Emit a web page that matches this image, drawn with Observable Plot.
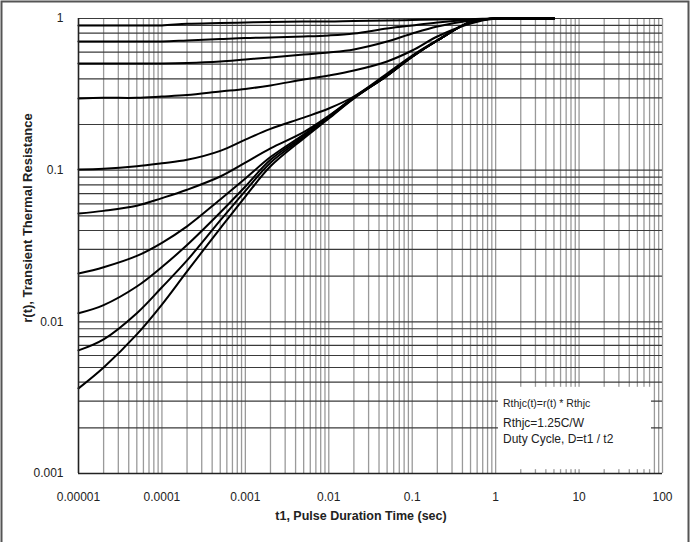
<!DOCTYPE html>
<html><head><meta charset="utf-8">
<script src="https://cdn.jsdelivr.net/npm/d3@7"></script>
<script src="https://cdn.jsdelivr.net/npm/@observablehq/plot@0.6"></script>
<style>
html,body{margin:0;padding:0;background:#fff;}
#chart{position:relative;width:694px;height:542px;}
</style></head><body><div id="chart"></div>
<script>
// pulse duration t1 (sec) at which each curve was read
const pulseTimes = [1e-5, 2e-5, 5e-5, 1e-4, 2e-4, 5e-4, 1e-3, 2e-3, 5e-3, 1e-2, 2e-2, 5e-2, 0.1, 0.2, 0.5, 1, 2, 5];
const seriesNames = ["D=0.9", "D=0.7", "D=0.5", "D=0.3", "D=0.1", "D=0.05", "D=0.02", "D=0.01", "D=0.005", "Single pulse"];
const rD09 = [0.90, 0.90, 0.90, 0.90, 0.923, 0.934, 0.941, 0.948, 0.955, 0.955, 0.963, 0.97, 0.977, 0.985, 0.99, 1.0, 1.0, 1.0];
const rD07 = [0.705, 0.705, 0.705, 0.705, 0.716, 0.732, 0.744, 0.75, 0.761, 0.773, 0.796, 0.859, 0.90, 0.94, 0.98, 1.0, 1.0, 1.0];
const rD05 = [0.505, 0.505, 0.505, 0.505, 0.509, 0.521, 0.537, 0.553, 0.579, 0.597, 0.625, 0.705, 0.796, 0.885, 0.97, 1.0, 1.0, 1.0];
const rD03 = [0.297, 0.30, 0.30, 0.306, 0.313, 0.330, 0.343, 0.362, 0.396, 0.421, 0.454, 0.521, 0.615, 0.761, 0.927, 1.0, 1.0, 1.0];
const rD01 = [0.101, 0.102, 0.106, 0.111, 0.117, 0.134, 0.159, 0.187, 0.222, 0.255, 0.306, 0.434, 0.57, 0.72, 0.95, 1.0, 1.0, 1.0];
const rD005 = [0.0518, 0.0539, 0.0582, 0.0654, 0.0743, 0.0908, 0.112, 0.139, 0.178, 0.228, 0.300, 0.424, 0.563, 0.716, 0.95, 1.0, 1.0, 1.0];
const rD002 = [0.0208, 0.0229, 0.0272, 0.0332, 0.0426, 0.0641, 0.088, 0.122, 0.172, 0.226, 0.303, 0.42, 0.56, 0.716, 0.95, 1.0, 1.0, 1.0];
const rD001 = [0.0114, 0.0129, 0.0171, 0.0230, 0.0321, 0.0526, 0.078, 0.117, 0.168, 0.223, 0.30, 0.42, 0.56, 0.716, 0.95, 1.0, 1.0, 1.0];
const rD0005 = [0.00648, 0.00766, 0.0114, 0.0169, 0.0254, 0.0466, 0.073, 0.112, 0.165, 0.221, 0.298, 0.42, 0.56, 0.716, 0.95, 1.0, 1.0, 1.0];
const rSingle = [0.00364, 0.0050, 0.00826, 0.0130, 0.0215, 0.0413, 0.067, 0.106, 0.162, 0.219, 0.297, 0.42, 0.56, 0.716, 0.95, 1.0, 1.0, 1.0];

const xTicks = [1e-5, 1e-4, 1e-3, 1e-2, 0.1, 1, 10, 100];
const xTickLabels = ["0.00001", "0.0001", "0.001", "0.01", "0.1", "1", "10", "100"];
const yTicks = [1, 0.1, 0.01, 0.001];
const yTickLabels = ["1", "0.1", "0.01", "0.001"];
const xTitle = "t1, Pulse Duration Time (sec)";
const yTitle = "r(t), Transient Thermal Resistance";
const noteLines = ["Rthjc(t)=r(t) * Rthjc", "Rthjc=1.25C/W", "Duty Cycle, D=t1 / t2"];

const allSeries = [rD09, rD07, rD05, rD03, rD01, rD005, rD002, rD001, rD0005, rSingle];
const rows = [];
allSeries.forEach((vals, i) => vals.forEach((r, j) => rows.push({series: seriesNames[i], t: pulseTimes[j], r})));

const gridX = [];
for (let e = -5; e <= 1; e++) for (let k = 1; k <= 9; k++) gridX.push(k * Math.pow(10, e));
gridX.push(100);
const gridY = [];
for (let e = -3; e <= -1; e++) for (let k = 1; k <= 9; k++) gridY.push(k * Math.pow(10, e));
gridY.push(1);

const xLab = new Map(xTicks.map((v, i) => [v, xTickLabels[i]]));
const yLab = new Map(yTicks.map((v, i) => [v, yTickLabels[i]]));

const plot = Plot.plot({
  width: 694, height: 542,
  marginLeft: 78, marginRight: 32, marginTop: 18, marginBottom: 69,
  x: {type: "log", domain: [1e-5, 100], label: null},
  y: {type: "log", domain: [0.001, 1], label: null},
  style: {fontFamily: "'Liberation Sans', Arial, sans-serif", fontSize: "12px", color: "#222", background: "white"},
  marks: [
    Plot.ruleX(gridX, {stroke: "#9a9a9a", strokeWidth: 1.3}),
    Plot.ruleY(gridY, {stroke: "#3a3a3a", strokeWidth: 1.2}),
    Plot.rect([0], {x1: () => 1.08, x2: () => 73.8, y1: () => 0.00106, y2: () => 0.0037, fill: "white"}),
    Plot.line(rows, {x: "t", y: "r", z: "series", stroke: "#000", strokeWidth: 2, curve: "catmull-rom"}),
    Plot.ruleX([1e-5], {stroke: "#222", strokeWidth: 1.5}),
    Plot.ruleY([0.001], {stroke: "#222", strokeWidth: 1.5}),
    Plot.axisX(xTicks, {tickSize: 0, tickPadding: 19, tickFormat: d => xLab.get(d), fill: "#222"}),
    Plot.axisY(yTicks, {tickSize: 0, tickPadding: 15, tickFormat: d => yLab.get(d), fill: "#222"})
  ]
});
document.getElementById("chart").appendChild(plot);

const svg = d3.select(plot);
const narrow = "'Liberation Sans Narrow', 'Arial Narrow', 'Liberation Sans', Arial, sans-serif";
svg.append("text").attr("x", 361).attr("y", 520).attr("text-anchor", "middle")
  .attr("font-family", narrow).attr("font-weight", "bold").attr("font-size", 12.5).attr("fill", "#222").text(xTitle);
svg.append("text").attr("transform", "translate(32,218) rotate(-90)").attr("text-anchor", "middle")
  .attr("font-family", narrow).attr("font-weight", "bold").attr("font-size", 13).attr("fill", "#222").text(yTitle);
const note = svg.append("g").attr("font-family", "'Liberation Sans', Arial, sans-serif").attr("fill", "#222").attr("text-anchor", "start");
note.append("text").attr("x", 503).attr("y", 407).attr("font-size", 10.5).text(noteLines[0]);
note.append("text").attr("x", 503).attr("y", 427).attr("font-size", 12).text(noteLines[1]);
note.append("text").attr("x", 503).attr("y", 443).attr("font-size", 12).text(noteLines[2]);
svg.append("path").attr("d", "M1.5,542V1.5H688.5V542").attr("fill", "none").attr("stroke", "#555").attr("stroke-width", 2);
</script></body></html>
